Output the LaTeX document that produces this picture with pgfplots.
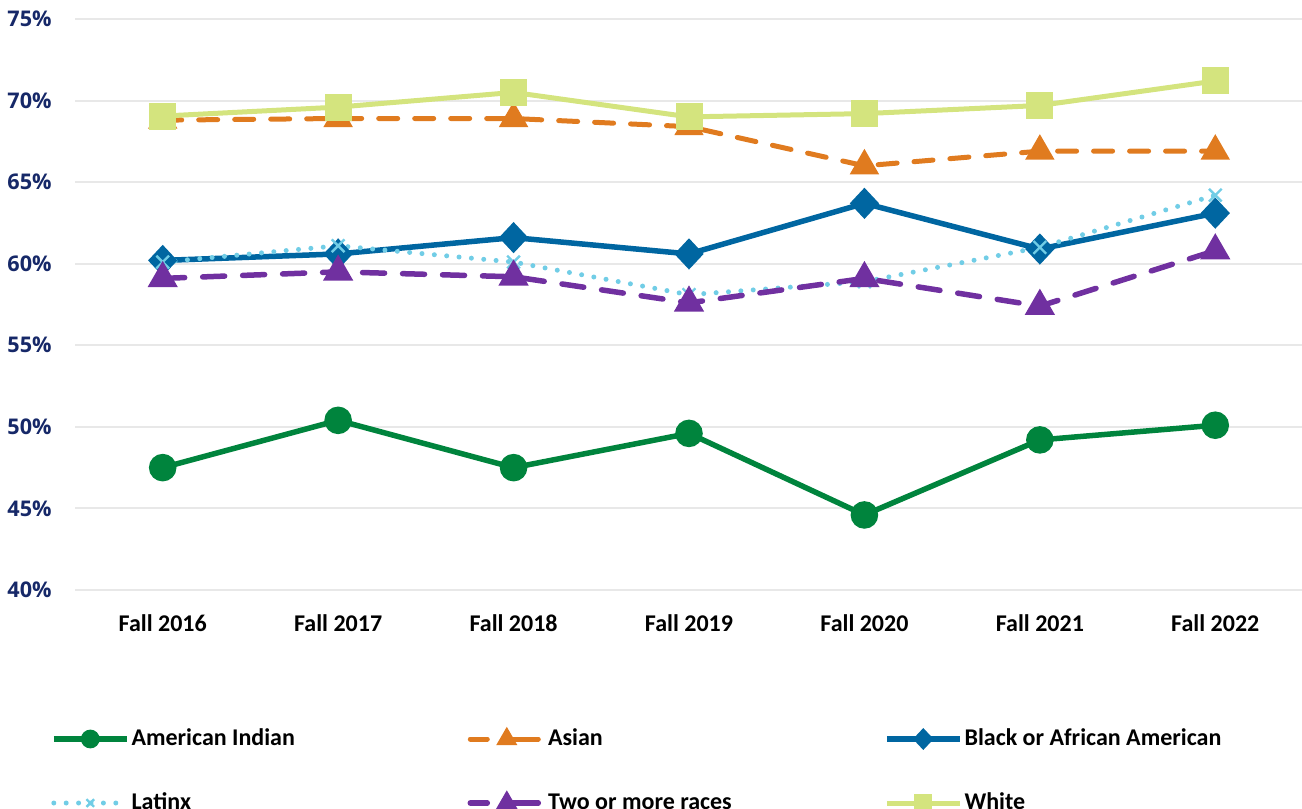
\documentclass[border=0pt]{standalone}
\usepackage{fontspec}
\setmainfont{Carlito}
\newfontfamily\ytfont{Open Sans}
\usepackage{pgfplots}
\pgfplotsset{compat=1.18}
\usepackage{pgfplotstable}

\definecolor{cAI}{RGB}{0,132,61}
\definecolor{cAS}{RGB}{224,123,31}
\definecolor{cBL}{RGB}{0,102,161}
\definecolor{cLA}{RGB}{113,205,230}
\definecolor{cTW}{RGB}{112,48,160}
\definecolor{cWH}{RGB}{212,228,126}
\definecolor{navy}{RGB}{22,40,104}
\definecolor{gridc}{RGB}{232,232,232}

\pgfplotstableread{
x AI AS BL LA TW WH
0 47.5 68.8 60.2 60.1 59.1 69.05
1 50.4 68.9 60.6 61.1 59.5 69.6
2 47.5 68.9 61.6 60.1 59.2 70.5
3 49.6 68.4 60.6 58.1 57.6 69.0
4 44.6 66.0 63.7 58.9 59.1 69.2
5 49.2 66.9 60.9 61.0 57.4 69.7
6 50.1 66.9 63.1 64.2 60.8 71.2
}\datatable

\begin{document}
\begin{tikzpicture}
\useasboundingbox (0pt,0pt) rectangle (651pt,404.5pt);
\begin{axis}[
  at={(37.5pt,109.5pt)}, anchor=south west,
  scale only axis, width=614pt, height=285.5pt,
  xmin=-0.5, xmax=6.5, ymin=40, ymax=75,
  clip=false,
  axis line style={draw=none},
  major tick length=0pt,
  xtick={0,...,6},
  xticklabels={Fall 2016,Fall 2017,Fall 2018,Fall 2019,Fall 2020,Fall 2021,Fall 2022},
  ytick={40,45,50,55,60,65,70,75},
  yticklabels={40\%,45\%,50\%,55\%,60\%,65\%,70\%,75\%},
  xticklabel style={font=\fontsize{12}{14}\selectfont\bfseries, inner sep=0pt, yshift=-12pt},
  yticklabel style={font=\ytfont\fontsize{10.8}{12}\selectfont\bfseries, text=navy, inner sep=0pt, xshift=-11.5pt},
  ymajorgrids, grid style={gridc, line width=1pt},
  legend columns=3,
  legend style={draw=none, fill=none, inner sep=0pt, outer sep=0pt,
    at={(axis description cs:-0.0195,-0.317)}, anchor=west,
    font=\fontsize{12}{14}\selectfont\bfseries,
    column sep=0pt, row sep=21pt,
    nodes={inner sep=0pt, text height=8.5pt, text depth=2.5pt},
    /tikz/every odd column/.append style={column sep=1pt},
    /tikz/every even column/.append style={column sep=8pt}},
  legend cell align=left,
  legend image code/.code={\draw[mark repeat=2,mark phase=2,#1] plot coordinates {(0pt,0pt) (18.25pt,0pt) (36.5pt,0pt)};},
  every legend image post/.append style={every mark/.append style={scale=0.6}},
]
\addplot[cAI, line width=2.75pt, mark=*, mark size=5.5pt, mark options={solid}] table[x=x,y=AI]{\datatable};
\addlegendentry{\makebox[160pt][l]{American Indian}}
\addplot[cAS, line width=2.5pt, line cap=round, dash pattern=on 9.5pt off 8.5pt, mark=triangle*, mark size=6pt, mark options={solid},
  legend image post style={dash pattern=on 8.5pt off 9.5pt on 16pt off 20pt}] table[x=x,y=AS]{\datatable};
\addlegendentry{\makebox[160pt][l]{Asian}}
\addplot[cBL, line width=2.75pt, mark=diamond*, mark size=5.8pt, mark options={solid, xscale=1.25}] table[x=x,y=BL]{\datatable};
\addlegendentry{\makebox[160pt][l]{Black or African American}}
\addplot[cLA, line width=2.5pt, line cap=round, dash pattern=on 0pt off 6.2pt, mark=x, mark size=4.5pt, mark options={solid, line width=1.2pt, line cap=butt}] table[x=x,y=LA]{\datatable};
\addlegendentry{\makebox[160pt][l]{Latinx}}
\addplot[cTW, line width=2.75pt, line cap=round, dash pattern=on 11pt off 9pt, mark=triangle*, mark size=6pt, mark options={solid},
  legend image post style={dash pattern=on 8.5pt off 9.5pt on 16pt off 20pt}] table[x=x,y=TW]{\datatable};
\addlegendentry{\makebox[160pt][l]{Two or more races}}
\addplot[cWH, line width=2.5pt, mark=square*, mark size=5.5pt, mark options={solid}] table[x=x,y=WH]{\datatable};
\addlegendentry{\makebox[160pt][l]{White}}
\end{axis}
\end{tikzpicture}
\end{document}
